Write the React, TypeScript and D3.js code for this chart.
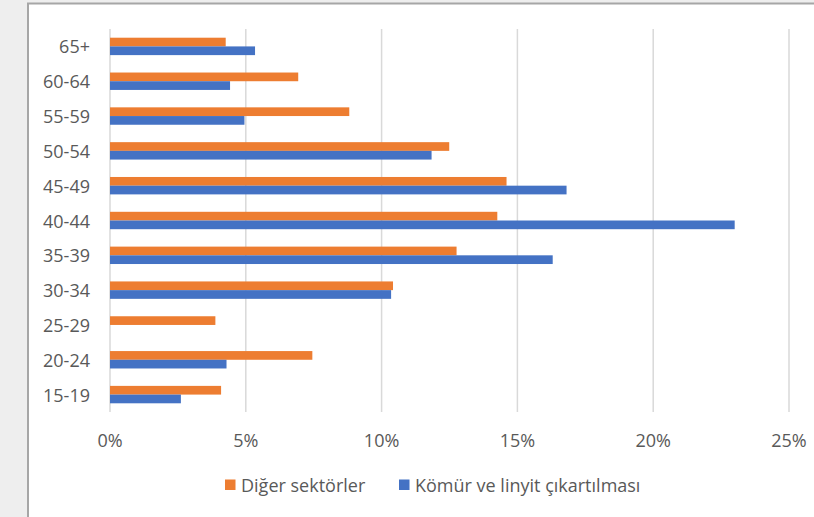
import * as d3 from "d3";
import { useEffect, useRef } from "react";

const categories = ["65+", "60-64", "55-59", "50-54", "45-49", "40-44", "35-39", "30-34", "25-29", "20-24", "15-19"];
const digerSektorler = [4.26, 6.93, 8.81, 12.49, 14.6, 14.26, 12.76, 10.42, 3.88, 7.45, 4.09];
const komurLinyit = [5.34, 4.42, 4.95, 11.84, 16.81, 23.0, 16.3, 10.35, 0, 4.29, 2.61];
const xTicks = [0, 5, 10, 15, 20, 25];
const seriesNames = ["Diğer sektörler", "Kömür ve linyit çıkartılması"];
const colors = ["#ED7D31", "#4472C4"];

function drawChart(container: HTMLElement) {
  const width = 814;
  const height = 517;
  const font = "'Open Sans', sans-serif";
  const textColor = "#595959";

  const svg = d3.select(container)
    .append("svg")
    .attr("width", width)
    .attr("height", height)
    .attr("viewBox", [0, 0, width, height])
    .style("display", "block")
    .style("position", "absolute")
    .style("left", "0px")
    .style("top", "0px");

  // background + frame
  svg.append("rect").attr("width", width).attr("height", height).attr("fill", "#eeeeee");
  svg.append("rect")
    .attr("x", 28).attr("y", 3.5)
    .attr("width", width).attr("height", height)
    .attr("fill", "#ffffff")
    .attr("stroke", "#a6a6a6")
    .attr("stroke-width", 2);

  const x = d3.scaleLinear([0, 25], [110, 789]);
  const y = d3.scaleBand(categories, [29, 412]).paddingInner(0.5).paddingOuter(0.25);
  const sub = d3.scaleBand([0, 1], [0, y.bandwidth()]);

  // gridlines
  svg.append("g")
    .selectAll("line")
    .data(xTicks)
    .join("line")
    .attr("x1", d => x(d)).attr("x2", d => x(d))
    .attr("y1", 29).attr("y2", 412)
    .attr("stroke", "#d9d9d9")
    .attr("stroke-width", 1.5);

  // bars
  const series = [digerSektorler, komurLinyit];
  series.forEach((vals, si) => {
    svg.append("g")
      .attr("fill", colors[si])
      .selectAll("rect")
      .data(vals)
      .join("rect")
      .attr("x", x(0))
      .attr("y", (_, i) => y(categories[i])! + sub(si)!)
      .attr("width", d => x(d) - x(0))
      .attr("height", sub.bandwidth());
  });

  // y labels
  svg.append("g")
    .selectAll("text")
    .data(categories)
    .join("text")
    .attr("x", 90)
    .attr("y", d => y(d)! + y.bandwidth() / 2)
    .attr("text-anchor", "end")
    .attr("dominant-baseline", "central")
    .attr("font-family", font)
    .attr("font-size", 18)
    .attr("fill", textColor)
    .text(d => d);

  // x labels
  svg.append("g")
    .selectAll("text")
    .data(xTicks)
    .join("text")
    .attr("x", d => x(d))
    .attr("y", 440)
    .attr("text-anchor", "middle")
    .attr("dominant-baseline", "central")
    .attr("font-family", font)
    .attr("font-size", 18)
    .attr("fill", textColor)
    .text(d => d + "%");

  // legend
  const legendX = [225, 399];
  const legend = svg.append("g")
    .selectAll("g")
    .data(seriesNames)
    .join("g")
    .attr("transform", (_, i) => `translate(${legendX[i]}, 485)`);
  legend.append("rect")
    .attr("x", 0).attr("y", -5.5)
    .attr("width", 10.5).attr("height", 10.5)
    .attr("fill", (_, i) => colors[i]);
  legend.append("text")
    .attr("x", 16)
    .attr("y", 0)
    .attr("dominant-baseline", "central")
    .attr("font-family", font)
    .attr("font-size", 18)
    .attr("fill", textColor)
    .text(d => d);
}

export default function App() {
  const domRef = useRef<HTMLDivElement>(null);
  useEffect(() => {
    if (domRef.current) {
      drawChart(domRef.current);
    }
    return () => {
      if (domRef.current) {
        d3.select(domRef.current).selectAll("svg").remove();
      }
    };
  }, [domRef]);
  return <div ref={domRef}></div>;
}
